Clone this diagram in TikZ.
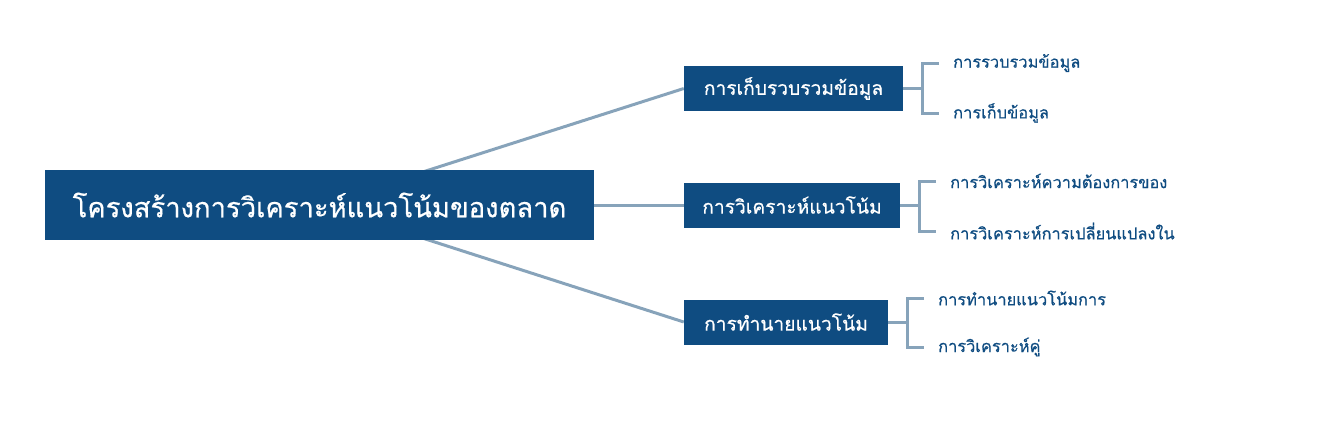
\documentclass[tikz,border=0pt]{standalone}
\usepackage{fontspec}
\newfontfamily\thaifont[Script=Thai, FakeBold=0.6]{Loma}
\usetikzlibrary{positioning, backgrounds}

\definecolor{boxblue}{RGB}{15,76,129}
\definecolor{linkgray}{RGB}{135,163,186}

\begin{document}
\begin{tikzpicture}[x=1pt, y=-1pt]
    \tikzstyle{block} = [rectangle, fill=boxblue, text=white, font=\thaifont\fontsize{19.2}{23}\selectfont, minimum height=45pt, inner xsep=0pt]
    \tikzstyle{root} = [block, font=\thaifont\fontsize{27.4}{32}\selectfont, minimum width=549pt, minimum height=70pt]
    \tikzstyle{leaf} = [text=boxblue, font=\thaifont\fontsize{16.4}{19}\selectfont, inner xsep=14pt, inner ysep=2pt, anchor=west]
    \tikzstyle{line} = [draw=linkgray, line width=3pt]

    \useasboundingbox (0,0) rectangle (1326,426);

    \node [root] (mkt) at (319.5,205) {โครงสร้างการวิเคราะห์แนวโน้มของตลาด};

    \node [block, minimum width=219pt] (collect) at (793.5,88.5) {การเก็บรวบรวมข้อมูล};
    \node [block, minimum width=216pt] (analyse) at (792,205) {การวิเคราะห์แนวโน้ม};
    \node [block, minimum width=204pt] (predict) at (786,322) {การทำนายแนวโน้ม};

    \node [leaf] (gather) at (939,63) {การรวบรวมข้อมูล};
    \node [leaf] (store) at (939,113) {การเก็บข้อมูล};
    \node [leaf] (demand) at (936,181) {การวิเคราะห์ความต้องการของ};
    \node [leaf] (change) at (936,231) {การวิเคราะห์การเปลี่ยนแปลงใน};
    \node [leaf] (forecast) at (924,298) {การทำนายแนวโน้มการ};
    \node [leaf] (rival) at (924,347) {การวิเคราะห์คู่};

    \coordinate (jc) at (922,88.5);
    \coordinate (ja) at (919,205);
    \coordinate (jp) at (907,322);

    \begin{scope}[on background layer]
        \path [line] (mkt.center) -- (collect.west);
        \path [line] (mkt.center) -- (analyse.west);
        \path [line] (mkt.center) -- (predict.west);
    \end{scope}

    \path [line] (collect.east) -- (jc);
    \path [line] (gather.west) -| (jc) |- (store.west);
    \path [line] (analyse.east) -- (ja);
    \path [line] (demand.west) -| (ja) |- (change.west);
    \path [line] (predict.east) -- (jp);
    \path [line] (forecast.west) -| (jp) |- (rival.west);
\end{tikzpicture}
\end{document}
